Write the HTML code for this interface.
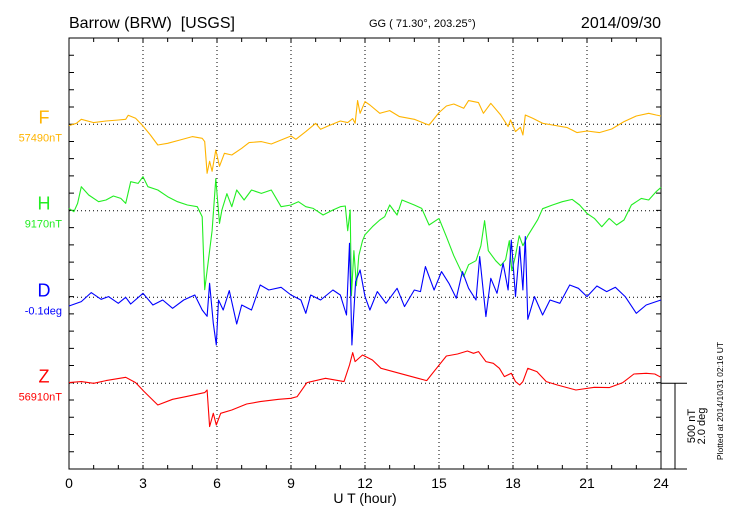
<!DOCTYPE html>
<html><head><meta charset="utf-8">
<style>
html,body{margin:0;padding:0;background:#fff;}
body{width:730px;height:520px;overflow:hidden;font-family:"Liberation Sans",sans-serif;}
svg text{font-family:"Liberation Sans",sans-serif;}
</style></head>
<body>
<svg id="chart" width="730" height="520" viewBox="0 0 730 520" xmlns="http://www.w3.org/2000/svg">
  <text x="69" y="28" font-size="16" fill="#000">Barrow (BRW)&#160;&#160;[USGS]</text>
  <text x="369" y="27" font-size="11" fill="#000">GG ( 71.30°, 203.25°)</text>
  <text x="661" y="28" font-size="16" fill="#000" text-anchor="end">2014/09/30</text>
  <g id="grid"></g>
  <g id="axes"></g>
  <g id="series"></g>
  <g id="labels"></g>
  <text x="365" y="503" font-size="14" fill="#000" text-anchor="middle">U T (hour)</text>
  <text transform="translate(695,426) rotate(-90)" font-size="11" fill="#000" text-anchor="middle">500 nT</text>
  <text transform="translate(705,426) rotate(-90)" font-size="11" fill="#000" text-anchor="middle">2.0 deg</text>
  <text transform="translate(723,401) rotate(-90)" font-size="8.5" fill="#000" text-anchor="middle">Plotted at 2014/10/31 02:16 UT</text>
</svg>
<script>
// ---- data (values are offsets from each baseline in chart scale units; 86.5 units = 500 nT) ----
const xTickLabels = [0,3,6,9,12,15,18,21,24];
const componentNames = ["F","H","D","Z"];
const baselineLabels = ["57490nT","9170nT","-0.1deg","56910nT"];

const fHours = [0,0.3,0.5,1,1.5,2,2.3,2.4,2.7,3,3.3,3.6,4,4.5,5,5.4,5.5,5.6,5.7,5.8,5.95,6.1,6.3,6.6,7,7.3,7.8,8.2,8.6,9,9.2,9.6,10,10.2,10.5,11,11.3,11.5,11.6,11.7,11.8,12,12.2,12.6,13,13.4,14,14.4,14.6,15,15.3,15.6,16,16.2,16.6,16.8,17.1,17.5,17.8,17.9,18.1,18.3,18.4,18.5,18.8,19.2,19.6,20.2,20.6,21,21.5,22,22.5,23,23.5,23.8,24];
const fValues = [-1.3,1,5,1.7,3.3,4.3,5,9,6,-1.7,-10.7,-20.7,-19,-15.7,-12.3,-14,-17.3,-49,-37,-47,-25.7,-42,-29,-30.7,-24,-18.3,-17.3,-19.7,-15.7,-11.7,-15,-7.3,1,-5,-1.7,3.3,1.7,5.7,1,23.7,11,22.7,19.3,11,13.7,7.7,5,1,-0.7,11.7,18.3,20.3,16,23.7,21.7,11,21,9.3,-2.3,4.3,-7.3,-3,-10.7,9.3,6,1,-0.7,-3.3,-8.3,-6.7,-8.3,-4.7,2.7,8.3,11,9.3,8.3];

const hHours = [0,0.2,0.35,0.5,0.8,1.2,1.5,1.8,2.1,2.3,2.5,2.8,3,3.2,3.6,4,4.4,4.8,5.2,5.4,5.5,5.6,5.7,5.8,5.95,6.1,6.2,6.4,6.6,6.8,7.1,7.4,7.8,8.2,8.6,9,9.3,9.6,9.9,10.3,10.7,11,11.2,11.3,11.4,11.45,11.55,11.65,11.75,11.9,12,12.3,12.6,12.8,13,13.3,13.5,14,14.3,14.6,15,15.3,15.6,16,16.2,16.5,16.7,16.85,17,17.3,17.5,17.7,17.85,17.95,18.1,18.25,18.4,18.6,19,19.2,19.6,20,20.4,20.7,21,21.3,21.6,21.9,22.2,22.5,22.8,23.2,23.5,23.8,24];
const hValues = [2.3,-1,7.3,24,15.7,9,10.7,14.7,12.3,7.3,29,27.3,34,24,20.7,14,9,5.7,4,-6,-79,-60,-40,-20,32,-12.7,0.7,17,4,20.7,10.7,20.7,17.3,20.7,4,5.7,9,4,2.3,-4.3,0.7,4,4.7,-20,0.7,-85,-40,-75,-45,-30,-24,-16,-9.3,-6,5.7,-4.3,10.7,5.7,2.3,-14.3,-7.7,-26,-45,-66,-54,-50,-35,-10,-40,-50,-55,-49,-30,-60,-45,-25,-35,-25,-9,2,5.7,9,11.3,5.7,-2.7,-7.7,-16,-7.7,-14.3,-9.3,5.7,12.3,10.7,19,23.3];

const dHours = [0,0.5,0.9,1.3,1.6,2,2.3,2.5,3,3.4,3.8,4.2,4.65,5.1,5.4,5.6,5.7,5.85,5.97,6.06,6.25,6.5,6.8,7,7.4,7.75,8.1,8.6,9,9.4,9.6,9.8,10.2,10.7,11,11.25,11.37,11.47,11.62,11.8,12,12.2,12.5,12.85,13.3,13.6,14,14.25,14.45,14.8,15.1,15.4,15.7,15.95,16.2,16.5,16.65,16.9,17.1,17.35,17.6,17.8,17.93,18.1,18.27,18.4,18.5,18.6,18.87,19.2,19.5,19.9,20.3,20.65,21,21.4,21.8,22.15,22.55,23,23.4,23.8,24];
const dValues = [-8.7,-4.3,4.7,-2,0.7,-6,0,-6.7,4,-7.7,-2.7,-11,-2.7,2.3,-12.7,-19,14,-26,-47.7,-2.7,-12.7,6.7,-26.7,-7.7,-12.7,12.3,7.3,10,2.3,-2.7,-16,2.3,-2.7,7.3,2.3,-17.7,54,-47.7,15.7,27.3,0.7,-12.7,5.7,-6,9,-9.3,7.3,5.7,30.7,7.3,25.7,14,-1,25.7,9,-2.7,40.7,-19.3,19,4,34,7.3,57.3,0.7,50.7,7.3,60.7,-22,0.7,-17.7,-2.7,-6,12.3,9,0.7,11.3,5.7,10,0.7,-16,-7.7,-4.3,-2.7];

const zHours = [0,0.5,1,1.5,2.3,2.7,3.05,3.6,4.2,4.75,5.5,5.6,5.7,5.85,5.97,6.15,6.6,7.2,7.75,8.5,9,9.25,9.65,10.4,11.15,11.37,11.5,11.6,11.9,12.3,12.65,13.4,14.15,14.5,14.9,15.3,15.75,16.15,16.4,16.6,16.9,17.2,17.45,17.65,17.93,18.1,18.27,18.4,18.6,18.97,19.35,19.8,20.55,21.3,21.9,22.45,22.9,23.4,23.75,24];
const zValues = [0.7,1.7,0,2.7,6,0.7,-8.3,-21.7,-16,-13.3,-9.3,-6.7,-43.3,-30,-41.7,-30,-26.7,-20.7,-18.3,-16,-15,-13.3,0.7,5,1.7,18.3,30.7,21.7,28.3,23.3,15,10,5,2.7,15,27.3,29.3,32.3,30,31.7,21.7,20,15,6.7,10,1.7,-1.7,1.7,15,11.7,1.7,-1.7,-6.7,-4,-4.3,0.7,9.3,10,9.3,6];

// ---- layout ----
const L=69, R=661, T=38, B=469;
const baselines=[124.3,210.7,297.3,383.3];
const colors=["#ffb400","#22ee22","#0000ff","#ff0000"];
const xScale = h => L + (R-L)*h/24;
const yScale = (i,v) => baselines[i] - v;
const NS="http://www.w3.org/2000/svg";
function mk(tag,parent){const e=document.createElementNS(NS,tag);document.getElementById(parent).appendChild(e);return e;}

// grid
for(const h of xTickLabels){ if(h===0||h===24) continue;
  const g=mk("line","grid");
  
  
  g.setAttribute("x1",xScale(h));g.setAttribute("x2",xScale(h));g.setAttribute("y1",T);g.setAttribute("y2",B);
  g.setAttribute("stroke","#000");g.setAttribute("stroke-width","1");g.setAttribute("stroke-dasharray","1,3");
}
baselines.forEach((y,i)=>{
  const g=mk("line","grid");
  
  
  g.setAttribute("x1",L);g.setAttribute("x2",R);g.setAttribute("y1",y);g.setAttribute("y2",y);
  g.setAttribute("stroke","#000");g.setAttribute("stroke-width","1");g.setAttribute("stroke-dasharray","1,3");
});

// axes frame
const fr=mk("rect","axes");


fr.setAttribute("x",L);fr.setAttribute("y",T);fr.setAttribute("width",R-L);fr.setAttribute("height",B-T);
fr.setAttribute("fill","none");fr.setAttribute("stroke","#000");fr.setAttribute("stroke-width","1");
let d="";
for(let h=1;h<24;h++){const x=xScale(h);d+=`M${x},${T}v4M${x},${B}v-4`;}
for(let k=1;k<25;k++){const y=T+(B-T)*k/25;d+=`M${L},${y}h5M${R},${y}h-5`;}
const tk=mk("path","axes");


tk.setAttribute("d",d);tk.setAttribute("stroke","#000");tk.setAttribute("stroke-width","1");
// scale bar
const sb=mk("path","axes");


sb.setAttribute("d",`M${R},${baselines[3]}H687M675,${baselines[3]}V${B}M${R},${B}H687`);
sb.setAttribute("stroke","#000");sb.setAttribute("stroke-width","1");sb.setAttribute("fill","none");

// x tick labels
for(const h of xTickLabels){
  const t=mk("text","axes");
  
  
  t.setAttribute("x",xScale(h));t.setAttribute("y",488);t.setAttribute("font-size","14");t.setAttribute("text-anchor","middle");
  t.textContent=h;
}

// series
const hoursArr=[fHours,hHours,dHours,zHours];
const valsArr=[fValues,hValues,dValues,zValues];
const seriesNames=['f-series-line','h-series-line','d-series-line','z-series-line'];
for(let i=0;i<4;i++){
  const p=mk("polyline","series");
  
  
  p.setAttribute("points",hoursArr[i].map((h,j)=>xScale(h).toFixed(1)+","+yScale(i,valsArr[i][j]).toFixed(1)).join(" "));
  p.setAttribute("fill","none");p.setAttribute("stroke",colors[i]);p.setAttribute("stroke-width","1.1");p.setAttribute("stroke-linejoin","round");
}

// left labels
for(let i=0;i<4;i++){
  const a=mk("text","labels");
  
  
  a.setAttribute("x",44);a.setAttribute("y",baselines[i]-1);a.setAttribute("font-size","18");a.setAttribute("fill",colors[i]);a.setAttribute("text-anchor","middle");
  a.textContent=componentNames[i];
  const b=mk("text","labels");
  
  
  b.setAttribute("x",62);b.setAttribute("y",baselines[i]+17);b.setAttribute("font-size","11");b.setAttribute("fill",colors[i]);b.setAttribute("text-anchor","end");
  b.textContent=baselineLabels[i];
}
</script>
</body></html>
